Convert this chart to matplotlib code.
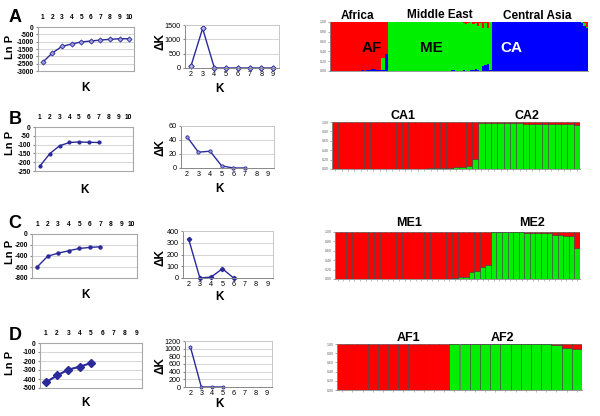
import matplotlib
matplotlib.use('Agg')
import matplotlib.pyplot as plt
import numpy as np

plt.rcParams['font.family'] = ['Liberation Sans', 'DejaVu Sans']

W, H = 600, 416
fig = plt.figure(figsize=(6, 4.16), dpi=100)

# ---------------- data ----------------
k_A_lnp = [1, 2, 3, 4, 5, 6, 7, 8, 9, 10]
lnp_A = [-2390, -1770, -1320, -1160, -1020, -955, -890, -840, -800, -800]
k_A_dk = [2, 3, 4, 5, 6, 7, 8, 9]
dk_A = [60, 1380, 0, 0, 0, 0, 0, 0]

k_B_lnp = [1, 2, 3, 4, 5, 6, 7]
lnp_B = [-222, -152, -107, -88, -85, -87, -88]
k_B_dk = [2, 3, 4, 5, 6, 7]
dk_B = [45, 22.6, 24, 3, 0, 0]

k_C_lnp = [1, 2, 3, 4, 5, 6, 7]
lnp_C = [-598, -403, -348, -305, -263, -244, -232]
k_C_dk = [2, 3, 4, 5, 6]
dk_C = [332, 0, 8, 79, 0]

k_D_lnp = [1, 2, 3, 4, 5]
lnp_D = [-438, -361, -296, -263, -223]
k_D_dk = [2, 3, 4, 5]
dk_D = [1043, 0, 0, 0]

# Panel A structure plot: blue / green shares per individual (red = rest)
af_blue = [0, 0, 0, 0, 0, 0, 0, 0, 0, 0, 0.01, 0.01, 0.01, 0.02, 0.01, 0.02,
           0.02, 0.05, 0.05, 0.03, 0.02, 0.02, 0.02, 0.35]
af_green = [0, 0, 0, 0, 0, 0, 0, 0, 0, 0, 0, 0, 0, 0, 0, 0,
            0, 0, 0, 0, 0, 0.25, 0.25, 0]
me_blue = [0, 0, 0, 0, 0, 0, 0, 0, 0, 0, 0, 0, 0, 0, 0, 0, 0, 0, 0, 0,
           0, 0, 0, 0, 0, 0.01, 0.02, 0.02, 0.01, 0.01, 0.01, 0.02, 0.01, 0.01,
           0.03, 0.02, 0.05, 0.02, 0.01, 0.10, 0.12, 0.15, 0.02]
me_red = [0, 0, 0, 0, 0, 0, 0, 0, 0, 0, 0, 0, 0, 0, 0, 0, 0, 0, 0, 0,
          0, 0, 0, 0, 0, 0, 0, 0, 0, 0, 0, 0.02, 0.04, 0.03, 0.01, 0.05, 0.02,
          0.08, 0.03, 0.13, 0.02, 0.13, 0.01]
ca_green = [0] * 37 + [0.02, 0.07, 0.03]
ca_red = [0.01, 0, 0, 0, 0, 0, 0, 0, 0, 0, 0, 0, 0, 0, 0, 0, 0, 0, 0, 0,
          0, 0, 0, 0, 0, 0, 0, 0, 0, 0, 0, 0, 0, 0, 0, 0, 0.01, 0.01, 0.02, 0.10]

# Panel B/C/D: green share per individual (red = rest)
ca_sub_green = [0, 0, 0, 0, 0, 0, 0, 0, 0.01, 0.01, 0.01, 0.01, 0.01, 0.01, 0.01,
                0.02, 0.02, 0.02, 0.03, 0.04, 0.04, 0.07, 0.22,
                0.98, 0.98, 0.97, 0.97, 0.97, 0.97, 0.97, 0.96, 0.96, 0.96, 0.96,
                0.96, 0.96, 0.96, 0.95, 0.93]
me_sub_green = [0] * 20 + [0.01, 0.03, 0.04, 0.05, 0.15, 0.17, 0.25, 0.30,
                1.0, 0.99, 0.99, 0.99, 0.99, 0.99, 0.98, 0.98, 0.98, 0.98, 0.97,
                0.94, 0.94, 0.92, 0.91, 0.66]
af_sub_green = [0] * 11 + [1, 1, 1, 1, 1, 1, 1, 0.99, 0.99, 0.99, 0.98, 0.91, 0.89]

LINE = '#2a2a9a'
RED = '#ff0000'
GREEN = '#00ee00'
BLUE = '#0000ff'


def ax_px(l, t, r, b):
    return fig.add_axes([l / W, 1 - b / H, (r - l) / W, (b - t) / H])


def txt(x, y, s, **kw):
    kw.setdefault('ha', 'center')
    kw.setdefault('va', 'center')
    fig.text(x / W, 1 - y / H, s, **kw)


def lnp_plot(box, ks, vals, xmax, yticks, marker_kw, lw=1.0):
    ax = ax_px(*box)
    ax.plot(ks, vals, color=LINE, lw=lw, **marker_kw)
    ax.set_xlim(0.5, xmax + 0.5)
    ax.set_ylim(yticks[-1], yticks[0])
    ax.set_yticks(yticks)
    ax.set_yticklabels([str(v) for v in yticks], fontsize=4.8, fontweight='bold')
    ax.xaxis.tick_top()
    ax.set_xticks(range(1, xmax + 1))
    ax.set_xticklabels([str(v) for v in range(1, xmax + 1)], fontsize=4.8,
                       fontweight='bold')
    ax.tick_params(axis='x', length=0, pad=4)
    ax.tick_params(axis='y', length=1.5, pad=1.5, color='#888888')
    for y in yticks:
        ax.axhline(y, color='#cfcfcf', lw=0.6, zorder=0)
    for s in ax.spines.values():
        s.set_color('#a8a8a8')
        s.set_linewidth(0.8)
    return ax


def dk_plot(box, ks, vals, yticks, marker_kw):
    ax = ax_px(*box)
    ax.plot(ks, vals, color=LINE, lw=1.0, clip_on=False, **marker_kw)
    ax.set_xlim(1.5, 9.5)
    ax.set_ylim(yticks[0], yticks[-1])
    ax.set_yticks(yticks)
    ax.set_yticklabels([str(v) for v in yticks], fontsize=5.2)
    ax.set_xticks(range(2, 10))
    ax.set_xticklabels([str(v) for v in range(2, 10)], fontsize=5.2)
    ax.tick_params(axis='x', length=0, pad=2.5)
    ax.tick_params(axis='y', length=1.5, pad=1.5, color='#888888')
    for y in yticks[1:]:
        ax.axhline(y, color='#cfcfcf', lw=0.6, zorder=0)
    for s in ax.spines.values():
        s.set_color('#c8c8c8')
        s.set_linewidth(0.7)
    ax.spines['left'].set_color('#888888')
    ax.spines['bottom'].set_color('#888888')
    return ax


def struct_ticks(ax):
    ax.set_ylim(0, 1)
    ax.set_yticks([0, 0.2, 0.4, 0.6, 0.8, 1.0])
    ax.set_yticklabels(['0.00', '0.20', '0.40', '0.60', '0.80', '1.00'],
                       fontsize=2.6, color='#666666')
    ax.tick_params(axis='y', length=1.5, pad=1, color='#888888', width=0.5)
    for side in ['top', 'right']:
        ax.spines[side].set_visible(False)
    ax.spines['left'].set_color('#888888')
    ax.spines['bottom'].set_color('#888888')
    ax.spines['left'].set_linewidth(0.6)
    ax.spines['bottom'].set_linewidth(0.6)


def struct_two(box, green):
    ax = ax_px(*box)
    green = np.array(green)
    x = np.arange(len(green))
    ax.bar(x, green, width=1.0, bottom=0, color=GREEN, edgecolor='#404040',
           linewidth=0.4, align='edge')
    ax.bar(x, 1 - green, width=1.0, bottom=green, color=RED, edgecolor='#404040',
           linewidth=0.4, align='edge')
    ax.set_xlim(0, len(green))
    ax.set_xticks(x + 0.5)
    ax.set_xticklabels([])
    ax.tick_params(axis='x', length=1.5, width=0.4, color='#888888')
    struct_ticks(ax)
    return ax


# ---------------- panel A ----------------
lnp_plot((38, 27, 134, 71), k_A_lnp, lnp_A, 10,
         [0, -500, -1000, -1500, -2000, -2500, -3000],
         dict(marker='D', ms=2.6, mfc='#9d9dd8', mec=LINE, mew=0.6))
dk_plot((185, 25, 279, 68), k_A_dk, dk_A, [0, 500, 1000, 1500],
        dict(marker='D', ms=2.8, mfc='#b8b8e8', mec=LINE, mew=0.7))

axA = ax_px(330, 22, 588, 71)
blue = np.array(af_blue + me_blue + [1 - g - r for g, r in zip(ca_green, ca_red)])
green = np.array([g for g in af_green] + [1 - b - r for b, r in zip(me_blue, me_red)]
                 + ca_green)
red = 1 - blue - green
xA = np.arange(len(blue))
axA.bar(xA, blue, width=1.0, color=BLUE, align='edge', linewidth=0)
axA.bar(xA, green, width=1.0, bottom=blue, color=GREEN, align='edge', linewidth=0)
axA.bar(xA, red, width=1.0, bottom=blue + green, color=RED, align='edge', linewidth=0)
axA.set_xlim(0, len(blue))
axA.set_xticks([])
struct_ticks(axA)

txt(358, 16, 'Africa', fontsize=8.5, fontweight='bold')
txt(440, 15, 'Middle East', fontsize=8.5, fontweight='bold')
txt(537, 16, 'Central Asia', fontsize=8.5, fontweight='bold')
txt(372, 48, 'AF', fontsize=11, fontweight='bold')
txt(431, 48, 'ME', fontsize=11, fontweight='bold')
txt(511, 48, 'CA', fontsize=11, fontweight='bold', color='white')

# ---------------- panel B ----------------
lnp_plot((35, 127, 133, 171), k_B_lnp, lnp_B, 10,
         [0, -50, -100, -150, -200, -250],
         dict(marker='o', ms=2.0, mfc=LINE, mec=LINE))
dk_plot((181, 126, 274, 168), k_B_dk, dk_B, [0, 20, 40, 60],
        dict(marker='o', ms=2.4, mfc='#9d9dd8', mec=LINE, mew=0.6))
struct_two((332, 122, 580, 169), ca_sub_green)
txt(403, 116, 'CA1', fontsize=9, fontweight='bold')
txt(527, 116, 'CA2', fontsize=9, fontweight='bold')

# ---------------- panel C ----------------
lnp_plot((32, 234, 137, 278), k_C_lnp, lnp_C, 10,
         [0, -200, -400, -600, -800],
         dict(marker='o', ms=2.2, mfc=LINE, mec=LINE))
dk_plot((183, 231, 273, 278), k_C_dk, dk_C, [0, 100, 200, 300, 400],
        dict(marker='D', ms=2.2, mfc=LINE, mec=LINE))
struct_two((335, 232, 580, 279), me_sub_green)
txt(409, 223, 'ME1', fontsize=9, fontweight='bold')
txt(532, 223, 'ME2', fontsize=9, fontweight='bold')

# ---------------- panel D ----------------
lnp_plot((40, 343, 142, 388), k_D_lnp, lnp_D, 9,
         [0, -100, -200, -300, -400, -500],
         dict(marker='D', ms=3.6, mfc=LINE, mec=LINE), lw=1.5)
dk_plot((185, 341, 272, 387), k_D_dk, dk_D, [0, 200, 400, 600, 800, 1000, 1200],
        dict(marker='o', ms=2.2, mfc='#9d9dd8', mec=LINE, mew=0.6))
struct_two((337, 344, 582, 390), af_sub_green)
txt(408, 338, 'AF1', fontsize=9, fontweight='bold')
txt(502, 338, 'AF2', fontsize=9, fontweight='bold')

# ---------------- labels ----------------
for (x, y, s) in [(15, 17, 'A'), (15, 120, 'B'), (15, 224, 'C'), (15, 335, 'D')]:
    txt(x, y, s, fontsize=13, fontweight='bold')
for y in [47, 143, 252, 363]:
    txt(10, y, 'Ln P', fontsize=8, fontweight='bold', rotation=90)
for y in [42, 147, 258, 365]:
    txt(160, y, '\u0394K', fontsize=8.5, fontweight='bold', rotation=90)
for (x, y) in [(86, 88), (84, 190), (85, 295), (85, 403),
               (219, 89), (219, 189), (220, 297), (219, 404)]:
    txt(x, y, 'K', fontsize=8.5, fontweight='bold')

fig.savefig('out.png', dpi=100)
